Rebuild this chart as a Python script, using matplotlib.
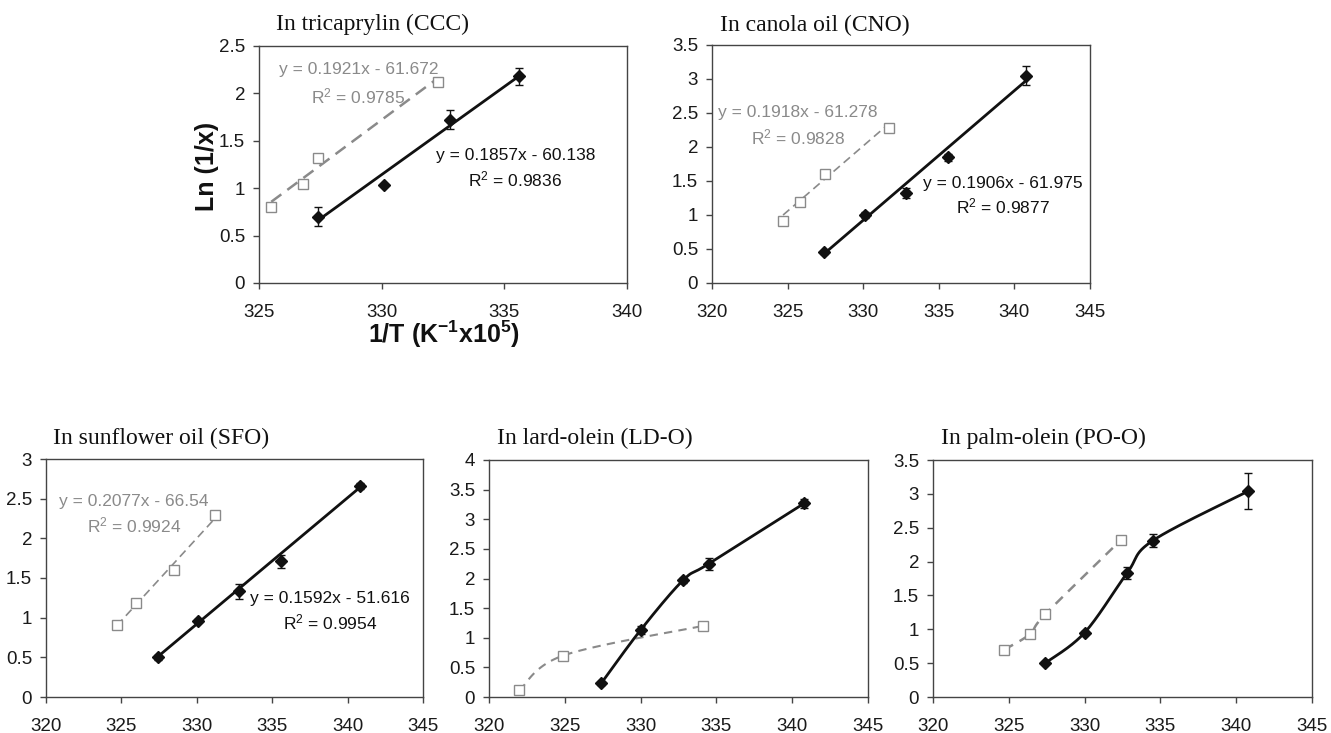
import numpy as np
import matplotlib
matplotlib.use("Agg")
import matplotlib.pyplot as plt

plt.rcParams['font.family'] = ['Liberation Sans', 'DejaVu Sans']
plt.rcParams['mathtext.fontset'] = 'custom'
plt.rcParams['mathtext.rm'] = 'Liberation Sans'
plt.rcParams['mathtext.it'] = 'Liberation Sans:italic'
plt.rcParams['mathtext.bf'] = 'Liberation Sans:bold'

# ---------------- data ----------------
titles = ["In tricaprylin (CCC)", "In canola oil (CNO)", "In sunflower oil (SFO)",
          "In lard-olein (LD-O)", "In palm-olein (PO-O)"]

ccc_bx = [327.4, 330.1, 332.8, 335.6]
ccc_by = [0.70, 1.03, 1.72, 2.18]
ccc_be = [0.10, 0.0, 0.10, 0.09]
ccc_gx = [325.5, 326.8, 327.4, 332.3]
ccc_gy = [0.80, 1.04, 1.32, 2.12]
ccc_bfit = (0.1857, -60.138, 0.9836)
ccc_gfit = (0.1921, -61.672, 0.9785)

cno_bx = [327.4, 330.1, 332.8, 335.6, 340.8]
cno_by = [0.45, 1.00, 1.32, 1.85, 3.05]
cno_be = [0.02, 0.04, 0.07, 0.05, 0.14]
cno_gx = [324.7, 325.8, 327.5, 331.7]
cno_gy = [0.91, 1.19, 1.60, 2.28]
cno_bfit = (0.1906, -61.975, 0.9877)
cno_gfit = (0.1918, -61.278, 0.9828)

sfo_bx = [327.4, 330.1, 332.8, 335.6, 340.8]
sfo_by = [0.50, 0.96, 1.33, 1.71, 2.66]
sfo_be = [0.03, 0.02, 0.10, 0.08, 0.04]
sfo_gx = [324.7, 326.0, 328.5, 331.2]
sfo_gy = [0.91, 1.19, 1.60, 2.29]
sfo_bfit = (0.1592, -51.616, 0.9954)
sfo_gfit = (0.2077, -66.54, 0.9924)

ldo_bx = [327.4, 330.0, 332.8, 334.5, 340.8]
ldo_by = [0.23, 1.13, 1.97, 2.25, 3.27]
ldo_be = [0.02, 0.06, 0.04, 0.10, 0.08]
ldo_gx = [322.0, 324.9, 334.1]
ldo_gy = [0.11, 0.70, 1.20]

poo_bx = [327.4, 330.0, 332.8, 334.5, 340.8]
poo_by = [0.50, 0.95, 1.83, 2.31, 3.04]
poo_be = [0.02, 0.02, 0.09, 0.10, 0.27]
poo_gx = [324.7, 326.4, 327.4, 332.4]
poo_gy = [0.70, 0.93, 1.22, 2.32]

eq_labels = {
    'ccc_g': ("y = 0.1921x - 61.672", "0.9785"),
    'ccc_b': ("y = 0.1857x - 60.138", "0.9836"),
    'cno_g': ("y = 0.1918x - 61.278", "0.9828"),
    'cno_b': ("y = 0.1906x - 61.975", "0.9877"),
    'sfo_g': ("y = 0.2077x - 66.54", "0.9924"),
    'sfo_b': ("y = 0.1592x - 51.616", "0.9954"),
}

xlims = [(325, 340), (320, 345), (320, 345), (320, 345), (320, 345)]
ylims = [(0, 2.5), (0, 3.5), (0, 3), (0, 4), (0, 3.5)]
yticks_step = 0.5

# ---------------- layout (pixels) ----------------
W, H = 1331, 733
fig = plt.figure(figsize=(W / 100, H / 100), dpi=100)
boxes = [(259, 627, 46, 283), (712, 1090, 45, 283), (46, 423, 459, 697),
         (489, 868, 460, 697), (933, 1312, 460, 697)]
title_pos = [(276, 24), (720, 25), (53, 438), (497, 438), (941, 438)]

BLACK = '#111111'
GRAY = '#8a8a8a'


def make_ax(i):
    x0, x1, yt, yb = boxes[i]
    ax = fig.add_axes([x0 / W, 1 - yb / H, (x1 - x0) / W, (yb - yt) / H])
    ax.set_xlim(*xlims[i])
    ax.set_ylim(*ylims[i])
    ax.set_xticks(np.arange(xlims[i][0], xlims[i][1] + 0.1, 5))
    ax.set_yticks(np.arange(ylims[i][0], ylims[i][1] + 0.01, yticks_step))
    ax.set_yticklabels([('%g' % v) for v in ax.get_yticks()])
    for s in ax.spines.values():
        s.set_color('#444444')
        s.set_linewidth(1.0)
    ax.tick_params(direction='out', length=4, width=1, color='#444444',
                   labelsize=13.5, labelcolor='#1a1a1a', pad=6)
    ax.tick_params(axis='x', pad=11)
    fig.text(title_pos[i][0] / W, 1 - title_pos[i][1] / H, titles[i],
             family=['Liberation Serif', 'DejaVu Serif'], fontsize=17,
             ha='left', va='center', color='#111111')
    return ax


def smooth(ax, xs, ys, n=40):
    pts = ax.transData.transform(np.column_stack([xs, ys]))
    out = []
    m = len(pts)
    for k in range(m - 1):
        p0 = pts[k - 1] if k > 0 else pts[k]
        p1 = pts[k]
        p2 = pts[k + 1]
        p3 = pts[k + 2] if k + 2 < m else pts[k + 1]
        c1 = p1 + (p2 - p0) / 6.0
        c2 = p2 - (p3 - p1) / 6.0
        t = np.linspace(0, 1, n)[:, None]
        seg = ((1 - t) ** 3) * p1 + 3 * ((1 - t) ** 2) * t * c1 + 3 * (1 - t) * t ** 2 * c2 + t ** 3 * p2
        out.append(seg if k == 0 else seg[1:])
    out = np.vstack(out)
    d = ax.transData.inverted().transform(out)
    return d[:, 0], d[:, 1]


def draw_points(ax, bx, by, be, gx, gy):
    ax.plot(gx, gy, ls='none', marker='s', ms=6.5, mfc='white', mec=GRAY, mew=1.0, zorder=4)
    ax.errorbar(bx, by, yerr=be, fmt='none', ecolor=BLACK, elinewidth=1.0, capsize=3, capthick=1.0, zorder=5)
    ax.plot(bx, by, ls='none', marker='D', ms=6, mfc=BLACK, mec=BLACK, zorder=6)


def fit_lines(ax, bx, gx, bfit, gfit, gdash, glw):
    xb = np.array([bx[0], bx[-1]])
    ax.plot(xb, bfit[0] * xb + bfit[1], color=BLACK, lw=2.0, zorder=3)
    xg = np.array([gx[0], gx[-1]])
    ax.plot(xg, gfit[0] * xg + gfit[1], color=GRAY, lw=glw, dashes=gdash, zorder=3)


def eq_text(ax, x, y, key, color, dy):
    eq, r2 = eq_labels[key]
    ax.text(x, y, eq, color=color, fontsize=12.5, ha='center', va='center')
    ax.text(x, y - dy, r'R$^2$ = ' + r2, color=color, fontsize=12.5, ha='center', va='center')


# Panel 1
ax = make_ax(0)
fit_lines(ax, ccc_bx, ccc_gx, ccc_bfit, ccc_gfit, (5, 3), 1.8)
draw_points(ax, ccc_bx, ccc_by, ccc_be, ccc_gx, ccc_gy)
eq_text(ax, 329.05, 2.25, 'ccc_g', GRAY, 0.28)
eq_text(ax, 335.45, 1.35, 'ccc_b', BLACK, 0.26)
fig.text(207 / W, 1 - 166 / H, 'Ln (1/x)', fontsize=18, fontweight='bold',
         rotation=90, ha='center', va='center', color='#111111')
fig.text(444 / W, 1 - 334 / H, r'1/T (K$^{\mathbf{-1}}$x10$^{\mathbf{5}}$)', fontsize=18,
         fontweight='bold', ha='center', va='center', color='#111111')

# Panel 2
ax = make_ax(1)
fit_lines(ax, cno_bx, cno_gx, cno_bfit, cno_gfit, (5, 3), 1.2)
draw_points(ax, cno_bx, cno_by, cno_be, cno_gx, cno_gy)
eq_text(ax, 325.7, 2.50, 'cno_g', GRAY, 0.36)
eq_text(ax, 339.25, 1.47, 'cno_b', BLACK, 0.35)

# Panel 3
ax = make_ax(2)
fit_lines(ax, sfo_bx, sfo_gx, sfo_bfit, sfo_gfit, (5, 3), 1.2)
draw_points(ax, sfo_bx, sfo_by, sfo_be, sfo_gx, sfo_gy)
eq_text(ax, 325.85, 2.47, 'sfo_g', GRAY, 0.31)
eq_text(ax, 338.85, 1.24, 'sfo_b', BLACK, 0.30)

# Panel 4
ax = make_ax(3)
sx, sy = smooth(ax, ldo_gx, ldo_gy)
ax.plot(sx, sy, color=GRAY, lw=1.5, dashes=(4, 3), zorder=3)
sx, sy = smooth(ax, ldo_bx, ldo_by)
ax.plot(sx, sy, color=BLACK, lw=2.0, zorder=3)
draw_points(ax, ldo_bx, ldo_by, ldo_be, ldo_gx, ldo_gy)

# Panel 5
ax = make_ax(4)
sx, sy = smooth(ax, poo_gx, poo_gy)
ax.plot(sx, sy, color=GRAY, lw=1.8, dashes=(4, 3), zorder=3)
sx, sy = smooth(ax, poo_bx, poo_by)
ax.plot(sx, sy, color=BLACK, lw=2.0, zorder=3)
draw_points(ax, poo_bx, poo_by, poo_be, poo_gx, poo_gy)

fig.savefig('out.png', dpi=100)
